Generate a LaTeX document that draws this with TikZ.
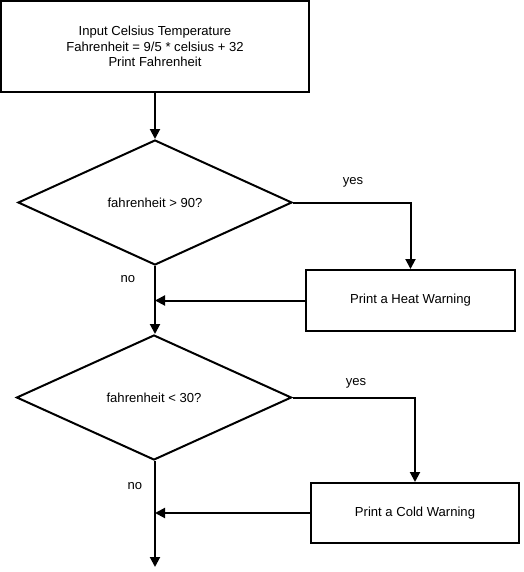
\documentclass[tikz,border=0pt]{standalone}
\usepackage{fontspec}
\setmainfont{Liberation Sans}
\usetikzlibrary{shapes.geometric,arrows.meta}
\begin{document}
\begin{tikzpicture}[x=0.75pt,y=-0.75pt,
  every node/.style={font=\fontsize{9.8}{11.8}\selectfont},
  procbox/.style={draw,line width=1.5pt,rectangle,inner sep=0pt,align=center},
  decision/.style={draw,line width=1.5pt,diamond,inner sep=0pt},
  arr/.style={line width=1.5pt,-{Triangle[length=7.5pt,width=7.5pt]}},
  lbl/.style={inner sep=0pt}]
\useasboundingbox (0,0) rectangle (524,572);
\node[procbox,minimum width=231pt,minimum height=68.25pt] (top) at (155,46.5)
  {Input Celsius Temperature\\Fahrenheit = 9/5 * celsius + 32\\Print Fahrenheit};
\node[decision,minimum width=205.5pt,minimum height=93.75pt] (d1) at (155,202.5) {fahrenheit > 90?};
\node[procbox,minimum width=156.75pt,minimum height=45.75pt] (heat) at (410.5,300.5) {Print a Heat Warning};
\node[decision,minimum width=206.25pt,minimum height=93.75pt] (d2) at (154,397.5) {fahrenheit < 30?};
\node[procbox,minimum width=156pt,minimum height=45pt] (cold) at (415,513) {Print a Cold Warning};
\coordinate (j1) at (155,300.5);
\coordinate (j2) at (155,513);
\coordinate (end) at (155,567);
\node[lbl] (y1) at (353,182) {yes};
\node[lbl] (y2) at (356,383) {yes};
\node[lbl] (n1) at (128,279) {no};
\node[lbl] (n2) at (135,486) {no};
\draw[arr] (top.south) -- (d1.north);
\draw[arr] (d1.east) -| (heat.north);
\draw[arr] (heat.west) -- (j1);
\draw[arr] (d1.south) -- (d2.north -| d1.south);
\draw[arr] (d2.east) -| (cold.north);
\draw[arr] (cold.west) -- (j2);
\draw[arr] (d2.south -| d1.south) -- (end);
\end{tikzpicture}
\end{document}
